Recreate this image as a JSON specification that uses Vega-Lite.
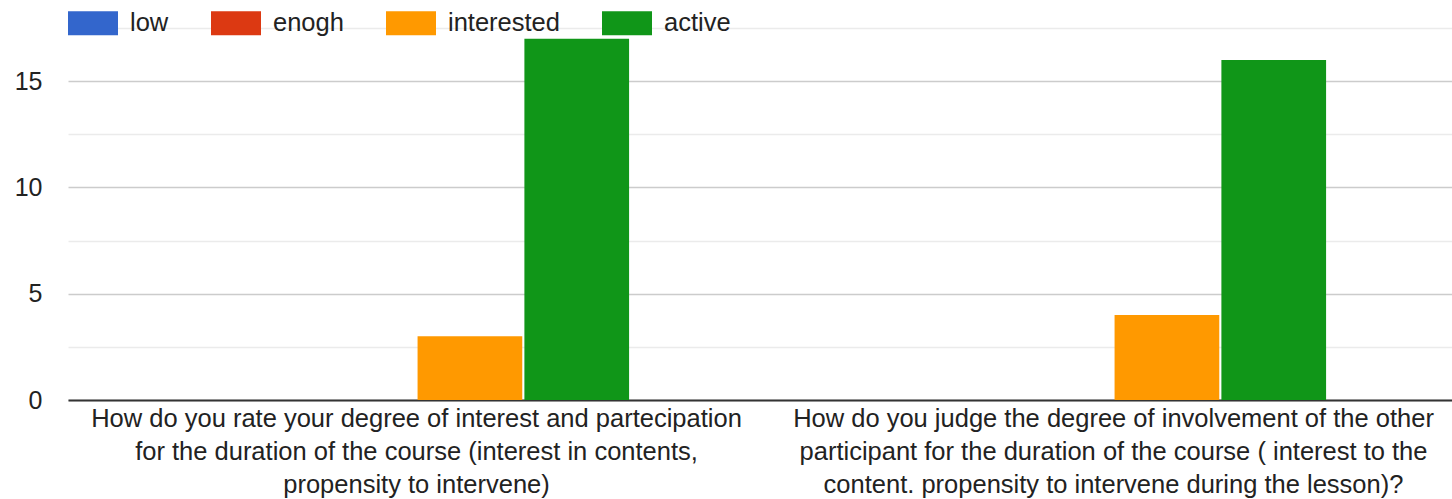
{
  "$schema": "https://vega.github.io/schema/vega-lite/v6.json",
  "autosize": {"type": "none"},
  "width": 1384,
  "height": 372,
  "padding": {"left": 68, "top": 28, "right": 0, "bottom": 99},
  "background": "white",
  "config": {"view": {"stroke": null}, "font": "Liberation Sans"},
  "data": {
    "values": [
      {"question": "How do you rate your degree of interest and partecipation\nfor the duration of the course (interest in contents,\npropensity to intervene)", "level": "low", "count": 0},
      {"question": "How do you rate your degree of interest and partecipation\nfor the duration of the course (interest in contents,\npropensity to intervene)", "level": "enogh", "count": 0},
      {"question": "How do you rate your degree of interest and partecipation\nfor the duration of the course (interest in contents,\npropensity to intervene)", "level": "interested", "count": 3},
      {"question": "How do you rate your degree of interest and partecipation\nfor the duration of the course (interest in contents,\npropensity to intervene)", "level": "active", "count": 17},
      {"question": "How do you judge the degree of involvement of the other\nparticipant for the duration of the course ( interest to the\ncontent. propensity to intervene during the lesson)?", "level": "low", "count": 0},
      {"question": "How do you judge the degree of involvement of the other\nparticipant for the duration of the course ( interest to the\ncontent. propensity to intervene during the lesson)?", "level": "enogh", "count": 0},
      {"question": "How do you judge the degree of involvement of the other\nparticipant for the duration of the course ( interest to the\ncontent. propensity to intervene during the lesson)?", "level": "interested", "count": 4},
      {"question": "How do you judge the degree of involvement of the other\nparticipant for the duration of the course ( interest to the\ncontent. propensity to intervene during the lesson)?", "level": "active", "count": 16}
    ]
  },
  "mark": {"type": "bar"},
  "encoding": {
    "x": {
      "field": "question", "type": "nominal", "sort": null,
      "scale": {"range": [0, 1394], "paddingInner": 0.39, "paddingOuter": 0.195},
      "axis": {
        "title": null, "labelAngle": 0, "ticks": false,
        "labelExpr": "split(datum.value, '\\n')",
        "labelFontSize": 25.5, "labelLineHeight": 33, "labelColor": "#222222",
        "labelPadding": 6, "labelLimit": 0,
        "domainColor": "#333333", "domainWidth": 2
      }
    },
    "xOffset": {
      "field": "level", "type": "nominal",
      "sort": ["low", "enogh", "interested", "active"],
      "scale": {"paddingOuter": 0, "paddingInner": 0.02}
    },
    "y": {
      "field": "count", "type": "quantitative",
      "scale": {"domain": [0, 17.5], "nice": false},
      "axis": {
        "title": null, "values": [0, 2.5, 5, 7.5, 10, 12.5, 15, 17.5],
        "labelExpr": "datum.value % 5 === 0 ? datum.label : ''",
        "ticks": false, "domain": false,
        "labelFontSize": 25, "labelColor": "#222222", "labelPadding": 26,
        "gridColor": {"condition": {"test": "datum.value % 5 === 0", "value": "#cccccc"}, "value": "#ebebeb"},
        "gridWidth": 1.5
      }
    },
    "color": {
      "field": "level", "type": "nominal",
      "sort": ["low", "enogh", "interested", "active"],
      "scale": {"domain": ["low", "enogh", "interested", "active"], "range": ["#3366cc", "#dc3912", "#ff9900", "#109618"]},
      "legend": {
        "title": null, "orient": "none", "direction": "horizontal",
        "legendX": 0, "legendY": -30,
        "symbolType": "M-1,-0.48H1V0.48H-1Z", "symbolSize": 2500,
        "symbolStrokeWidth": 0, "symbolOpacity": 1,
        "labelFontSize": 25.5, "labelColor": "#222222", "labelOffset": 12,
        "columnPadding": 42, "padding": 0
      }
    }
  }
}
